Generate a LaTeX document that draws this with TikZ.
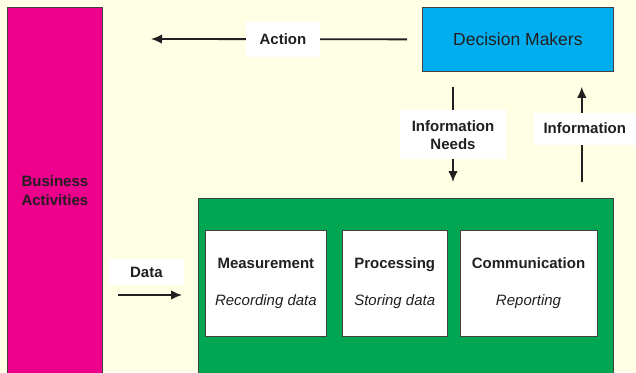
\documentclass[tikz,border=0pt]{standalone}
\usepackage{fontspec}
\setmainfont{Liberation Sans}
\usepackage{xcolor}
\usepackage{tikz}
\usetikzlibrary{arrows.meta,positioning,calc}

\definecolor{bgyellow}{HTML}{FFFFE6}
\definecolor{bizpink}{HTML}{EC008C}
\definecolor{dmblue}{HTML}{00AEEF}
\definecolor{sysgreen}{HTML}{00A651}
\definecolor{inkgray}{HTML}{231F20}

\begin{document}
\begin{tikzpicture}[x=1pt, y=-1pt,
  panel/.style={draw=inkgray!85, line width=0.8pt, inner sep=0pt, text=inkgray},
  stagebox/.style={draw=inkgray!85, fill=white, line width=0.8pt,
    minimum height=106pt, inner sep=0pt, align=center, text=inkgray,
    font=\fontsize{15}{18}\selectfont},
  tag/.style={fill=white, inner sep=0pt, align=center, text=inkgray,
    font=\bfseries\fontsize{15}{18}\selectfont},
  arr/.style={-{Latex[length=11pt,width=9.5pt]}, line width=1.8pt, draw=inkgray},
]
  \fill[bgyellow] (0,0) rectangle (636,372);
  \useasboundingbox (0,0) rectangle (636,372);

  \node[panel, fill=bizpink, minimum width=95pt, minimum height=367pt,
    anchor=north west, align=center, font=\bfseries\fontsize{15}{19}\selectfont]
    (biz) at (7,7) {Business\\Activities};
  \node[panel, fill=dmblue, minimum width=191pt, minimum height=64pt,
    anchor=north west, font=\fontsize{17.5}{20}\selectfont]
    (dm) at (422,7) {Decision Makers};
  \node[panel, fill=sysgreen, minimum width=415pt, minimum height=180pt,
    anchor=north west] (sys) at (198,198) {};

  \node[stagebox, minimum width=121pt, anchor=north west] (meas) at (205,230)
    {\textbf{Measurement}\\[19pt]\textit{Recording data}};
  \node[stagebox, minimum width=105pt, right=15pt of meas] (proc)
    {\textbf{Processing}\\[19pt]\textit{Storing data}};
  \node[stagebox, minimum width=137pt, right=12pt of proc] (comm)
    {\textbf{Communication}\\[19pt]\textit{Reporting}};

  \coordinate (actend) at (151,39);
  \coordinate (datay) at (0,295);

  \draw[arr, shorten <=15pt] (dm.west) --
    node[tag, pos=0.513, minimum width=74pt, minimum height=35pt] {Action}
    (actend);
  \draw[arr, shorten <=15pt, shorten >=16pt] ([xshift=31pt]dm.south west) --
    node[tag, minimum width=106pt, minimum height=49pt] {Information\\Needs}
    ([xshift=31pt]dm.south west |- sys.north);
  \draw[arr, shorten <=16pt, shorten >=15pt] ([xshift=-32pt]dm.south east |- sys.north) --
    node[tag, pos=0.55, xshift=3pt, minimum width=102pt, minimum height=32pt] {Information}
    ([xshift=-32pt]dm.south east);
  \draw[arr, shorten <=15pt, shorten >=16pt] (biz.east |- datay) --
    node[tag, above=9pt, xshift=-4pt, minimum width=75pt, minimum height=26pt] {Data}
    (sys.west |- datay);
\end{tikzpicture}
\end{document}
